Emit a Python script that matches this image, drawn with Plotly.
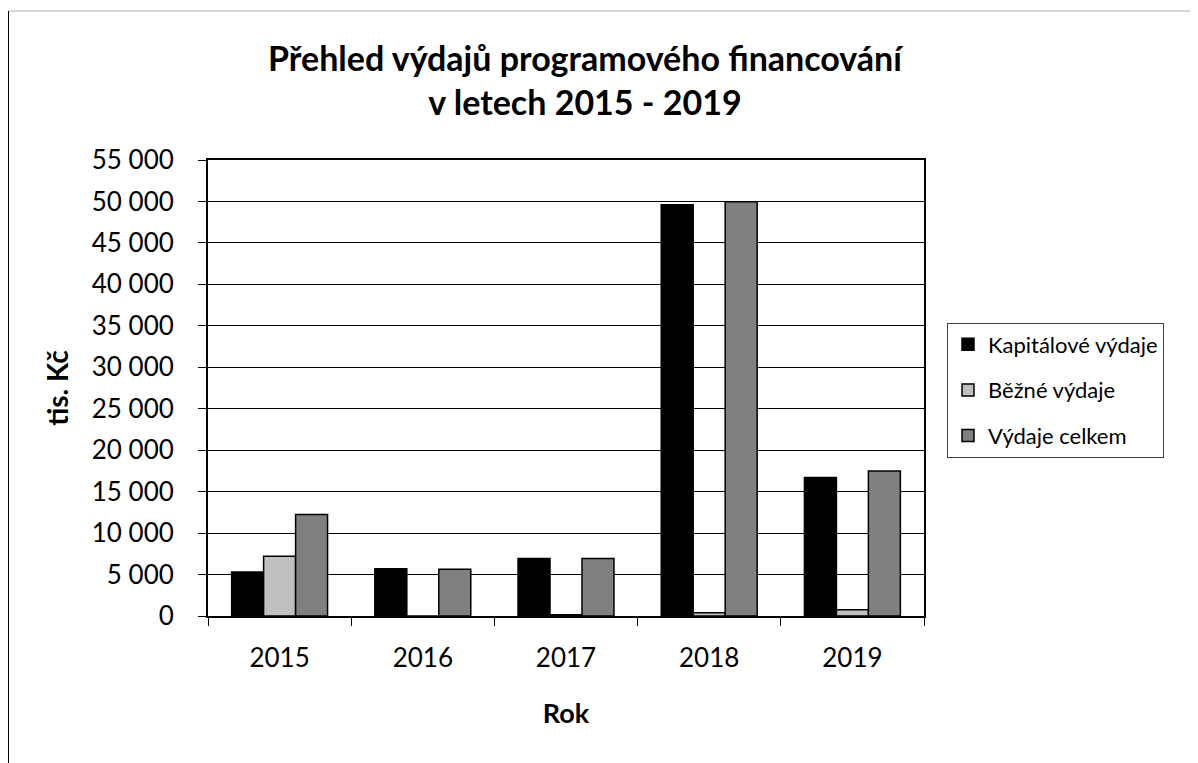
import plotly.graph_objects as go

years = ["2015", "2016", "2017", "2018", "2019"]
kapitalove = [5300, 5700, 6950, 49600, 16700]
bezne = [7200, 0, 150, 400, 750]
celkem = [12250, 5650, 6950, 49950, 17500]

series_names = ["Kapitálové výdaje", "Běžné výdaje", "Výdaje celkem"]
series_values = [kapitalove, bezne, celkem]
series_colors = ["#000000", "#c0c0c0", "#808080"]

y_ticks = list(range(0, 55001, 5000))

FONT = "Lato, 'Open Sans', sans-serif"

fig = go.Figure()
for i, (name, vals, col) in enumerate(zip(series_names, series_values, series_colors)):
    fig.add_trace(go.Bar(
        x=years, y=vals, name=name, legendgroup=f"g{i}",
        marker=dict(color=col, line=dict(color="#000000", width=1.5)),
    ))

# figure sits in the page with an 8px body margin
W, H = 1190, 755
L, R, T, B = 200, 916, 152, 608
pw, ph = R - L, B - T

def px(x):
    return (x - L) / pw

def py(y):
    return (B - y) / ph

fig.update_layout(
    width=W, height=H,
    margin=dict(l=L, r=W - R, t=T, b=H - B, pad=0),
    paper_bgcolor="white", plot_bgcolor="white",
    font=dict(family=FONT, size=22, color="#000000"),
    separators=", ",
    barmode="group", bargap=0.33, bargroupgap=0,
    title=dict(
        text="<b>Přehled výdajů programového financování<br>v letech 2015 - 2019</b>",
        x=577 / W, xanchor="center", y=1 - 63 / H, yanchor="middle",
        font=dict(family=FONT, size=34, color="#000000"),
    ),
    legend=dict(
        x=px(939), xanchor="left", y=py(382), yanchor="middle",
        bordercolor="#404040", borderwidth=1,
        font=dict(family=FONT, size=22, color="#000000"),
        tracegroupgap=14, itemwidth=30,
    ),
    showlegend=True,
    shapes=[
        dict(type="line", xref="paper", yref="paper",
             x0=px(0.5), x1=px(1200), y0=py(3), y1=py(3),
             line=dict(color="#b0b0b0", width=1)),
        dict(type="line", xref="paper", yref="paper",
             x0=px(0.5), x1=px(0.5), y0=py(3), y1=py(770),
             line=dict(color="#000000", width=1)),
    ],
)

fig.update_xaxes(
    type="category",
    showline=True, linecolor="#000000", linewidth=2, mirror=True,
    ticks="outside", ticklen=8, tickcolor="#000000", tickwidth=1,
    tickson="boundaries",
    ticklabelstandoff=18,
    tickfont=dict(family=FONT, size=26, color="#000000"),
    title=dict(text="<b>Rok</b>", standoff=32,
               font=dict(family=FONT, size=27, color="#000000")),
    showgrid=False,
)
fig.update_yaxes(
    range=[0, 55000],
    tickvals=y_ticks, tickformat=",d",
    showline=True, linecolor="#000000", linewidth=2, mirror=True,
    ticks="outside", ticklen=8, tickcolor="#000000", tickwidth=1,
    ticklabelstandoff=19,
    tickfont=dict(family=FONT, size=26, color="#000000"),
    showgrid=True, gridcolor="#000000", gridwidth=1,
    zeroline=False,
    title=dict(text="<b>tis. Kč</b>", standoff=15,
               font=dict(family=FONT, size=28, color="#000000")),
)

fig.write_html("out.html")
